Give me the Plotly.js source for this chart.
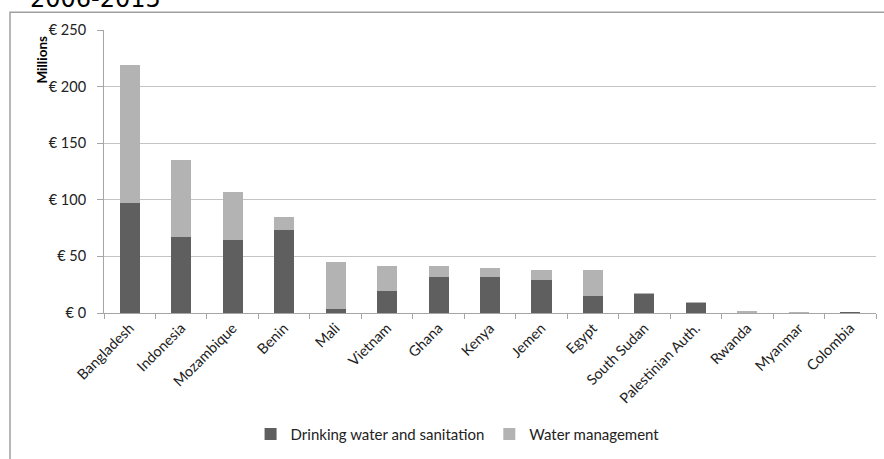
<!DOCTYPE html>
<html>
<head>
<meta charset="utf-8">
<script src="https://cdn.plot.ly/plotly-3.0.1.min.js"></script>
<style>html,body{margin:0;padding:0;background:#fff;}#chart{width:884px;height:459px;}</style>
</head>
<body>
<div id="chart"></div>
<script>
var countries = ["Bangladesh","Indonesia","Mozambique","Benin","Mali","Vietnam","Ghana","Kenya","Jemen","Egypt","South Sudan","Palestinian Auth.","Rwanda","Myanmar","Colombia"];
var drinkingWater = [97.5, 67, 64.7, 72.9, 3.2, 19.2, 31.4, 32.2, 29, 15, 17, 9, 0.3, 0.2, 1];
var waterManagement = [122, 68, 41.8, 12.1, 42.1, 22.3, 10.1, 7.3, 9, 23, 1, 1, 1.7, 0.6, 0.2];
var yTickVals = [0, 50, 100, 150, 200, 250];
var yTickText = ["€ 0", "€ 50", "€ 100", "€ 150", "€ 200", "€ 250"];
var chartTitle = "2006-2015";

var FONT = "Lato, 'Open Sans', sans-serif";
var traces = [
  {type: "bar", name: "Drinking water and sanitation", x: countries, y: drinkingWater,
   marker: {color: "#5f5f5f"}},
  {type: "bar", name: "Water management", x: countries, y: waterManagement,
   marker: {color: "#b3b3b3"}}
];
var layout = {
  width: 884, height: 459,
  margin: {l: 104, r: 8, t: 30, b: 142},
  barmode: "stack", bargap: 0.61,
  paper_bgcolor: "#fff", plot_bgcolor: "#fff",
  font: {family: FONT, size: 14, color: "#222"},
  showlegend: true,
  legend: {orientation: "h", x: 0.458, xanchor: "center", y: -0.4286, yanchor: "middle",
           font: {family: FONT, size: 15, color: "#222"}, traceorder: "normal", itemwidth: 30},
  xaxis: {type: "category", tickangle: -45, showline: true, linecolor: "#a6a6a6", linewidth: 1,
          ticks: "outside", tickson: "boundaries", ticklen: 5, tickcolor: "#a6a6a6",
          showgrid: false, tickfont: {family: FONT, size: 14.5, color: "#222"}, fixedrange: true},
  yaxis: {range: [0, 250], tickvals: yTickVals, ticktext: yTickText, showline: true,
          linecolor: "#a6a6a6", linewidth: 1, ticks: "outside", ticklen: 6, tickcolor: "#a6a6a6",
          ticklabelstandoff: 8, showgrid: true, gridcolor: "#c4c4c4", gridwidth: 1, zeroline: false,
          tickfont: {family: FONT, size: 14.5, color: "#222"}},
  annotations: [
    {text: chartTitle, xref: "paper", yref: "paper", x: (28 - 104) / 772, xanchor: "left",
     y: 1 + (30 - 15) / 287, yanchor: "bottom", showarrow: false,
     font: {family: "DejaVu Sans", size: 24, color: "#000"}},
    {text: "<b>Millions</b>", xref: "paper", yref: "paper", x: (42 - 104) / 772, xanchor: "center",
     y: 1 - (60 - 30) / 287, yanchor: "middle", textangle: -90, showarrow: false,
     font: {family: FONT, size: 13.5, color: "#000"}}
  ],
  shapes: [
    {type: "rect", xref: "paper", yref: "paper", x0: (10 - 104) / 772, x1: (900 - 104) / 772,
     y0: (317 - 480) / 287, y1: 1 + (30 - 12) / 287, line: {color: "#a0a0a0", width: 1.5}, layer: "below"}
  ]
};
Plotly.newPlot("chart", traces, layout, {displayModeBar: false, staticPlot: true});
</script>
</body>
</html>
